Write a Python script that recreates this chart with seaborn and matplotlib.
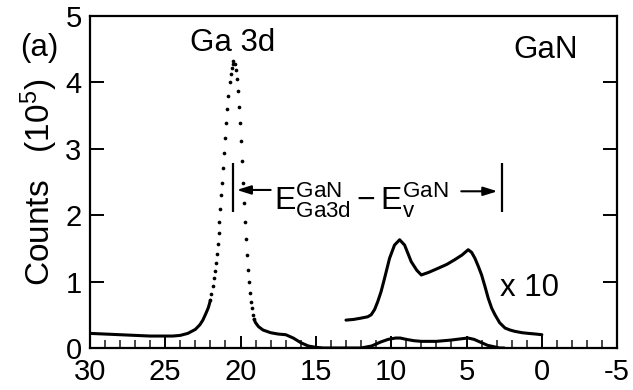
import matplotlib
matplotlib.use("Agg")
import matplotlib.pyplot as plt
from matplotlib.ticker import MultipleLocator
import seaborn as sns

# Ga 3d core level + valence band spectrum of GaN (binding energy in eV, counts in 1e5)
left_tail_x = [30.0, 29.0, 28.0, 27.0, 26.0, 25.0, 24.5, 24.0, 23.5, 23.0, 22.7, 22.5, 22.3, 22.15, 22.07, 22.0]
left_tail_y = [0.22, 0.21, 0.20, 0.19, 0.18, 0.18, 0.18, 0.19, 0.22, 0.28, 0.35, 0.42, 0.52, 0.60, 0.66, 0.72]

peak_x = [22.0, 21.93, 21.86, 21.79, 21.72, 21.66, 21.59, 21.52, 21.46, 21.40, 21.34, 21.28,
          21.22, 21.15, 21.08, 21.01, 20.94, 20.87, 20.80, 20.73, 20.66, 20.60, 20.53, 20.47,
          20.40, 20.32, 20.24, 20.17, 20.10, 20.03, 19.96, 19.90, 19.84, 19.78, 19.72, 19.66,
          19.59, 19.52, 19.45, 19.38, 19.31, 19.24, 19.17, 19.10]
peak_y = [0.72, 0.82, 0.93, 1.05, 1.16, 1.28, 1.42, 1.57, 1.73, 1.89, 2.09, 2.30,
          2.49, 2.71, 2.94, 3.16, 3.39, 3.60, 3.80, 4.00, 4.12, 4.22, 4.28, 4.32,
          4.28, 4.19, 4.05, 3.87, 3.63, 3.39, 3.11, 2.81, 2.49, 2.19, 1.90, 1.64,
          1.40, 1.17, 0.99, 0.83, 0.70, 0.60, 0.50, 0.43]

right_tail_x = [19.10, 19.0, 18.8, 18.5, 18.0, 17.5, 17.0, 16.5, 16.0, 15.5, 15.0, 14.5, 14.0,
                13.0, 12.0, 11.3, 10.7, 10.2, 9.7, 9.4, 9.0, 8.5, 8.0, 7.0, 6.0, 5.3, 4.9,
                4.5, 4.0, 3.6, 3.2, 2.8, 2.5]
right_tail_y = [0.43, 0.38, 0.32, 0.27, 0.23, 0.21, 0.20, 0.15, 0.08, 0.03, 0.01, 0.0, 0.0,
                0.0, 0.0, 0.03, 0.09, 0.13, 0.15, 0.15, 0.13, 0.11, 0.10, 0.10, 0.12, 0.14, 0.15,
                0.13, 0.08, 0.04, 0.02, 0.0, 0.0]

# valence band region magnified x10
x10_x = [13.0, 12.5, 12.0, 11.56, 11.33, 11.1, 10.89, 10.67, 10.44, 10.11, 9.78, 9.44, 9.11,
         8.67, 8.3, 8.0, 7.5, 6.89, 6.3, 5.78, 5.3, 4.89, 4.66, 4.44, 4.2, 4.0, 3.78, 3.56,
         3.33, 3.11, 2.8, 2.44, 2.1, 1.78, 1.3, 0.89, 0.4, 0.0]
x10_y = [0.42, 0.43, 0.45, 0.47, 0.50, 0.58, 0.70, 0.85, 1.05, 1.35, 1.55, 1.63, 1.55,
         1.30, 1.17, 1.10, 1.14, 1.20, 1.26, 1.33, 1.40, 1.48, 1.44, 1.35, 1.22, 1.10, 0.93, 0.75,
         0.60, 0.50, 0.38, 0.30, 0.27, 0.25, 0.23, 0.22, 0.21, 0.20]

x_ticks = [30, 25, 20, 15, 10, 5, 0, -5]
y_ticks = [0, 1, 2, 3, 4, 5]

sns.set_theme(style="ticks")
plt.rcParams["font.family"] = ["Liberation Sans", "DejaVu Sans"]
plt.rcParams["mathtext.fontset"] = "custom"
plt.rcParams["mathtext.rm"] = "Liberation Sans"
plt.rcParams["mathtext.it"] = "Liberation Sans:italic"
plt.rcParams["mathtext.bf"] = "Liberation Sans:bold"
plt.rcParams["axes.unicode_minus"] = False

fig = plt.figure(figsize=(6.33, 3.90), dpi=100)
ax = fig.add_axes([0.142, 0.1077, 0.833, 0.8513])

ink = "black"
fs = 22.5
fs_tick = 21
line_kw = dict(color=ink, linewidth=2.2, sort=False, estimator=None, legend=False, ax=ax)
sns.lineplot(x=left_tail_x, y=left_tail_y, **line_kw)
sns.lineplot(x=right_tail_x, y=right_tail_y, **line_kw)
sns.lineplot(x=x10_x, y=x10_y, **line_kw)
sns.scatterplot(x=peak_x, y=peak_y, color=ink, s=7, linewidth=0, legend=False, ax=ax)

ax.set_xlim(30, -5)
ax.set_ylim(0, 5)
ax.set_xticks(x_ticks)
ax.set_xticklabels([str(v) for v in x_ticks])
ax.set_yticks(y_ticks)
ax.xaxis.set_minor_locator(MultipleLocator(1))

for side in ["left", "right", "top", "bottom"]:
    ax.spines[side].set_visible(True)
    ax.spines[side].set_linewidth(1.6)
    ax.spines[side].set_color(ink)

ax.tick_params(axis="x", which="major", direction="in", length=9, width=1.4,
               top=False, bottom=True, labelsize=fs_tick, pad=7, colors=ink)
ax.tick_params(axis="x", which="minor", direction="in", length=6, width=1.2,
               top=False, bottom=True)
ax.tick_params(axis="y", which="major", direction="in", length=10, width=1.4,
               left=True, right=True, labelsize=fs_tick, pad=6, colors=ink)
for lbl in ax.get_yticklabels():
    lbl.set_verticalalignment("center_baseline")

ax.set_ylabel(r"Counts   (10$^{5}$)", fontsize=24, labelpad=4, color=ink)

# annotations
ax.text(-0.095, 0.905, "(a)", transform=ax.transAxes, fontsize=fs, ha="center", va="center", color=ink)
ax.text(20.5, 4.59, "Ga 3d", fontsize=fs, ha="center", va="center", color=ink)
ax.text(-0.27, 4.49, "GaN", fontsize=fs, ha="center", va="center", color=ink)
ax.text(0.8, 0.9, "x 10", fontsize=fs, ha="center", va="center", color=ink)

# energy separation marker
ax.vlines([20.51, 2.67], 2.05, 2.79, color=ink, linewidth=1.6)
ax.text(12.0, 2.08, r"$\mathrm{E}^{\mathrm{GaN}}_{\mathrm{Ga3d}} - \mathrm{E}^{\mathrm{GaN}}_{\mathrm{v}}$",
        fontsize=23, ha="center", va="baseline", color=ink)
arrow_kw = dict(arrowstyle="-|>,head_length=0.7,head_width=0.22", color=ink, linewidth=1.5,
                shrinkA=0, shrinkB=0)
ax.annotate("", xy=(20.25, 2.38), xytext=(18.0, 2.38), arrowprops=arrow_kw)
ax.annotate("", xy=(2.95, 2.36), xytext=(5.35, 2.36), arrowprops=arrow_kw)

fig.savefig("out.png", dpi=100)
